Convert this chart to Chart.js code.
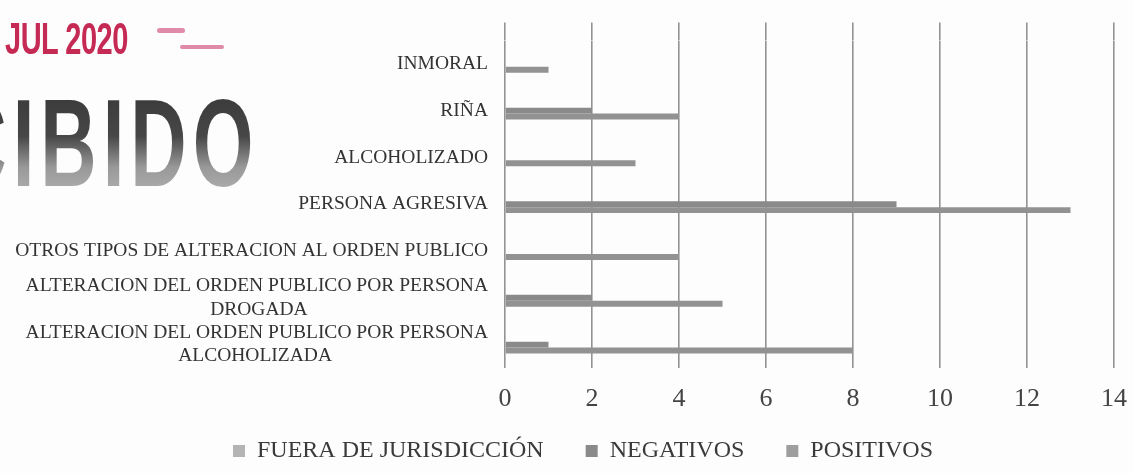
<!DOCTYPE html>
<html>
<head>
<meta charset="utf-8">
<script src="https://cdn.jsdelivr.net/npm/chart.js@4"></script>
<style>
  html, body { margin: 0; padding: 0; background: #fdfdfd; }
  #wrap { position: relative; width: 1133px; height: 473px; overflow: hidden; }
  #chartBox { position: absolute; left: 0; top: 0; width: 1168px; height: 473px; }
  .stamp-date {
    position: absolute; left: 5px; top: 18px;
    font: bold 29px "Liberation Sans", sans-serif; line-height: 1;
    color: #c52a55; transform: scaleY(1.5); transform-origin: 0 0;
    letter-spacing: -0.5px; white-space: nowrap;
  }
  .stamp-word {
    position: absolute; left: -170px; top: 80px;
    font: bold 78px "Liberation Sans", sans-serif; line-height: 1;
    letter-spacing: 6px; white-space: nowrap;
    transform: scaleY(1.6); transform-origin: 0 0;
    background: linear-gradient(#363636, #474747 45%, #999 70%, #b8b8b8);
    -webkit-background-clip: text; background-clip: text; color: transparent;
  }
  .scribble { position: absolute; background: #d9779a; border-radius: 3px; opacity: 0.85; }
</style>
</head>
<body>
<div id="wrap">
  <div id="chartBox"><canvas id="mainChart"></canvas></div>
  <div class="stamp-date">JUL 2020</div>
  <div class="scribble" style="left:157px;top:28px;width:28px;height:5px;"></div>
  <div class="scribble" style="left:180px;top:45px;width:44px;height:4px;"></div>
  <div class="stamp-word">RECIBIDO</div>
</div>
<script>
// Categories, top to bottom as shown
const categories = [
    'INMORAL',
    'RIÑA',
    'ALCOHOLIZADO',
    'PERSONA AGRESIVA',
    'OTROS TIPOS DE ALTERACION AL ORDEN PUBLICO',
    ['ALTERACION DEL ORDEN PUBLICO POR PERSONA', 'DROGADA'],
    ['ALTERACION DEL ORDEN PUBLICO POR PERSONA', 'ALCOHOLIZADA']
];

const fueraJurisdiccion = [1, 4, 3, 13, 4, 5, 8];
const negativos = [0, 2, 0, 9, 0, 2, 1];
const positivos = [0, 0, 0, 0, 0, 0, 0];

const xTicks = [0, 2, 4, 6, 8, 10, 12, 14];

const labelFont = '19.5px "Liberation Serif"';

// pad shorter lines of a multi-line label so they look centred under the longest one
const measureCtx = document.createElement('canvas').getContext('2d');
measureCtx.font = labelFont;
function centerLines(lbl) {
    if (!Array.isArray(lbl)) return lbl;
    const widths = lbl.map(l => measureCtx.measureText(l).width);
    const maxW = Math.max(...widths);
    const spaceW = measureCtx.measureText(' ').width;
    return lbl.map((l, i) => {
        const n = Math.round((maxW - widths[i]) / 2 / spaceW);
        return l + ' '.repeat(n);
    });
}

// legend in the original sits a bit right of the page centre
const shiftLegend = {
    id: 'shiftLegend',
    afterLayout(chart) {
        chart.legend.left += 26;
        chart.legend.right += 26;
    }
};

document.addEventListener('DOMContentLoaded', () => {
    const ctx = document.getElementById('mainChart').getContext('2d');
    const gridColor = '#939393';

    new Chart(ctx, {
        type: 'bar',
        data: {
            labels: categories,
            // dataset 0 sits on top of each cluster, so they are listed reversed
            datasets: [
                { label: 'POSITIVOS', data: positivos, backgroundColor: '#9e9e9e' },
                { label: 'NEGATIVOS', data: negativos, backgroundColor: '#8a8a8a' },
                { label: 'FUERA DE JURISDICCIÓN', data: fueraJurisdiccion, backgroundColor: '#929292' }
            ]
        },
        plugins: [shiftLegend],
        options: {
            indexAxis: 'y',
            responsive: true,
            maintainAspectRatio: false,
            animation: false,
            categoryPercentage: 0.38,
            barPercentage: 1.0,
            layout: { padding: { left: 0, right: 54, top: 19, bottom: 0 } },
            plugins: {
                tooltip: { enabled: false },
                legend: {
                    position: 'bottom',
                    labels: {
                        font: { family: 'Liberation Serif', size: 24 },
                        color: '#3a3a3a',
                        boxWidth: 12,
                        boxHeight: 12,
                        padding: 24,
                        sort: (a, b) => b.datasetIndex - a.datasetIndex,
                        generateLabels: (chart) => {
                            const items = Chart.defaults.plugins.legend.labels.generateLabels(chart);
                            const legendColors = ['#9e9e9e', '#8a8a8a', '#b4b4b4'];
                            items.forEach(it => {
                                it.fillStyle = legendColors[it.datasetIndex];
                                it.lineWidth = 0;
                                // a little extra room after the first two entries
                                if (it.datasetIndex > 0) it.text = it.text + '   ';
                            });
                            return items;
                        }
                    }
                }
            },
            scales: {
                x: {
                    min: 0,
                    max: 14,
                    afterBuildTicks: (scale) => { scale.ticks = xTicks.map(v => ({ value: v })); },
                    afterFit: (scale) => { scale.height = 47; },
                    grid: { color: gridColor, lineWidth: 1.6, drawTicks: false },
                    border: { display: false },
                    ticks: {
                        padding: 16,
                        color: '#444',
                        font: { family: 'Liberation Serif', size: 26 }
                    }
                },
                x2: {
                    position: 'top',
                    min: 0,
                    max: 14,
                    afterBuildTicks: (scale) => { scale.ticks = xTicks.map(v => ({ value: v })); },
                    afterFit: (scale) => { scale.height = 18; },
                    grid: { color: gridColor, lineWidth: 1.6, drawOnChartArea: false, drawTicks: true, tickLength: 18 },
                    border: { display: false },
                    ticks: { display: false }
                },
                y: {
                    afterFit: (scale) => { scale.width = 505; },
                    grid: { display: false, drawTicks: false },
                    border: { display: false },
                    ticks: {
                        autoSkip: false,
                        padding: 17,
                        color: '#333',
                        font: { family: 'Liberation Serif', size: 19.5, lineHeight: 1.2 },
                        callback: function (value) {
                            return centerLines(this.getLabelForValue(value));
                        }
                    }
                }
            }
        }
    });
});
</script>
</body>
</html>
